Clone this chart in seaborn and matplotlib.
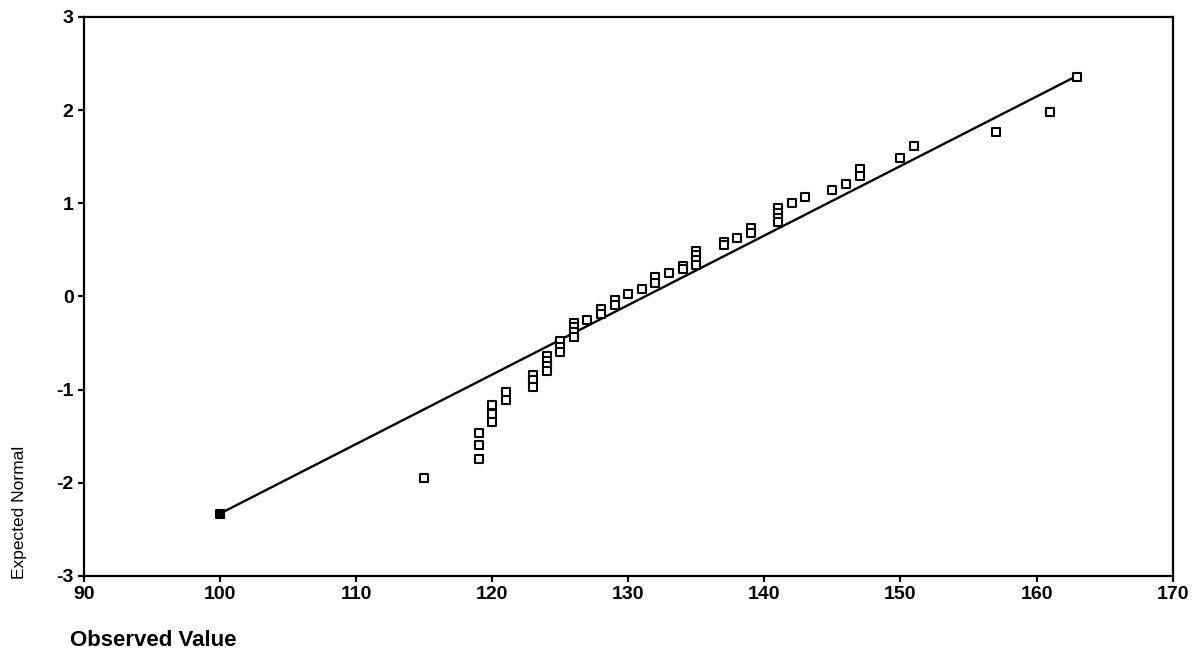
import pandas as pd
import seaborn as sns
import matplotlib.pyplot as plt

observed = [100, 115, 119, 119, 119, 120, 120, 120, 121, 121,
            123, 123, 123, 124, 124, 124, 124, 125, 125, 125,
            126, 126, 126, 126, 127, 128, 128, 129, 129, 130,
            131, 132, 132, 133, 134, 134, 135, 135, 135, 135,
            137, 137, 138, 139, 139, 141, 141, 141, 141, 142,
            143, 145, 146, 147, 147, 150, 151, 157, 161, 163]
expected = [-2.33, -1.95, -1.46, -1.59, -1.74, -1.17, -1.26, -1.35, -1.03, -1.11,
            -0.84, -0.90, -0.97, -0.64, -0.69, -0.75, -0.80, -0.48, -0.54, -0.60,
            -0.28, -0.33, -0.38, -0.44, -0.25, -0.13, -0.19, -0.04, -0.09, 0.03,
            0.08, 0.21, 0.15, 0.25, 0.33, 0.29, 0.49, 0.44, 0.39, 0.34,
            0.59, 0.55, 0.63, 0.73, 0.68, 0.95, 0.90, 0.84, 0.80, 1.00,
            1.07, 1.14, 1.21, 1.37, 1.29, 1.49, 1.61, 1.77, 1.98, 2.36]

# reference normal line endpoints
line_x = [100, 163]
line_y = [-2.33, 2.37]

x_ticks = [90, 100, 110, 120, 130, 140, 150, 160, 170]
y_ticks = [-3, -2, -1, 0, 1, 2, 3]

sns.set_style("ticks")
plt.rcParams['font.family'] = ['Liberation Sans', 'DejaVu Sans']
plt.rcParams['axes.unicode_minus'] = False

df = pd.DataFrame({"Observed Value": observed, "Expected Normal": expected})
line_df = pd.DataFrame({"x": line_x, "y": line_y})

fig = plt.figure(figsize=(11.99, 6.71), dpi=100)
ax = fig.add_axes([0.070, 0.1416, 0.908, 0.8331])

sns.lineplot(data=line_df, x="x", y="y", color="black", linewidth=1.7, ax=ax)
sns.scatterplot(data=df, x="Observed Value", y="Expected Normal", marker="s",
                s=30, facecolor="white", edgecolor="black", linewidth=1.5,
                zorder=3, ax=ax)
# lowest point is drawn solid where it sits on the end of the line
sns.scatterplot(x=observed[:1], y=expected[:1], marker="s", s=30,
                color="black", edgecolor="black", zorder=4, ax=ax)

ax.set_xlim(90, 170)
ax.set_ylim(-3, 3)
ax.set_xticks(x_ticks)
ax.set_yticks(y_ticks)
ax.tick_params(axis="both", direction="out", length=4, width=1.6,
               labelsize=14, colors="black")
for lab in ax.get_xticklabels() + ax.get_yticklabels():
    lab.set_fontweight("bold")
for sp in ax.spines.values():
    sp.set_visible(True)
    sp.set_linewidth(1.6)
    sp.set_color("black")

ax.set_xlabel("")
ax.set_ylabel("")
fig.text(0.016, 0.237, "Expected Normal", rotation=90, fontsize=12.5,
         color="black", ha="center", va="center")
fig.text(0.058, 0.03, "Observed Value", fontsize=16, fontweight="bold",
         color="black", ha="left", va="bottom")

fig.savefig("out.png", dpi=100)
